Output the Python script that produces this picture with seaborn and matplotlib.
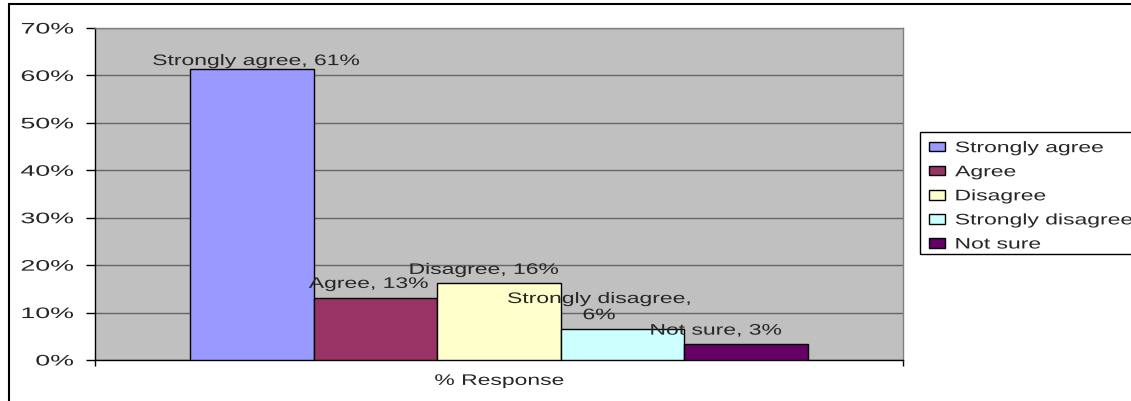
import numpy as np
import pandas as pd
import matplotlib
matplotlib.use("Agg")
import matplotlib.pyplot as plt
from matplotlib.patches import Rectangle
from matplotlib.patheffects import AbstractPathEffect
from matplotlib.transforms import Affine2D
from matplotlib.ticker import PercentFormatter, FixedLocator
import seaborn as sns

# data
answers = ["Strongly agree", "Agree", "Disagree", "Strongly disagree", "Not sure"]
shares = [0.614, 0.131, 0.162, 0.065, 0.034]
group = ["% Response"] * len(answers)
colors = ["#9999FF", "#993366", "#FFFFCC", "#CCFFFF", "#660066"]

df = pd.DataFrame({"group": group, "answer": answers, "share": shares})


# the original export has its text stretched sideways, so widen the glyphs
class Widen(AbstractPathEffect):
    def __init__(self, sx=1.5, anchor="center"):
        super().__init__()
        self.sx = sx
        self.anchor = anchor

    def draw_path(self, renderer, gc, tpath, affine, rgbFace=None):
        ext = tpath.get_extents()
        if self.anchor == "left":
            x0 = ext.x0
        elif self.anchor == "right":
            x0 = ext.x1
        else:
            x0 = (ext.x0 + ext.x1) / 2
        stretch = Affine2D().translate(-x0, 0).scale(self.sx, 1).translate(x0, 0)
        renderer.draw_path(gc, tpath, stretch + affine, rgbFace)


sns.set_theme(style="white")
plt.rcParams["font.family"] = ["Liberation Sans", "DejaVu Sans"]
plt.rcParams["font.size"] = 11

fig = plt.figure(figsize=(11.31, 4.02), dpi=100)
ax = fig.add_axes([95 / 1131, 1 - 361 / 402, 808 / 1131, 332 / 402])
ax.set_facecolor("#C0C0C0")

sns.barplot(data=df, x="group", y="share", hue="answer", hue_order=answers,
            palette=colors, saturation=1, width=0.765, edgecolor="black",
            linewidth=1, ax=ax, zorder=3)

ax.set_ylim(0, 0.70)
ax.set_xlim(-0.5, 0.5)
ax.yaxis.set_major_locator(FixedLocator(np.arange(0, 0.71, 0.1)))
ax.yaxis.set_major_formatter(PercentFormatter(1.0, decimals=0))
ax.grid(axis="y", color="#666666", linewidth=1, zorder=0)
ax.set_axisbelow(True)
ax.set_xlabel("")
ax.set_ylabel("")

ax.tick_params(axis="y", left=True, length=6.5, width=1, color="black",
               labelsize=11, pad=9)
ax.tick_params(axis="x", bottom=False, length=0, labelsize=11, pad=10)
ax.set_xticks([-0.5, 0.5], minor=True)
ax.tick_params(axis="x", which="minor", bottom=True, length=4.5, width=1,
               color="black")

for side in ["left", "bottom"]:
    ax.spines[side].set_color("black")
    ax.spines[side].set_linewidth(1)
for side in ["top", "right"]:
    ax.spines[side].set_color("#808080")
    ax.spines[side].set_linewidth(1)

# data labels over the bars
nudge_x = [3, -5, -11, -17, -22]
nudge_y = [0.5, 5, 4.5, 5, 4.5]
for bar, name, val, dx, dy in zip(ax.patches, answers, shares, nudge_x, nudge_y):
    txt = f"{name}, {round(val * 100)}%"
    if len(txt) > 20:
        txt = txt.replace(", ", ",\n")
    ax.annotate(txt, (bar.get_x() + bar.get_width() / 2, bar.get_height()),
                xytext=(dx, dy), textcoords="offset points",
                ha="center", va="bottom", fontsize=11, zorder=5,
                path_effects=[Widen(1.5, "center")])

leg = ax.legend(loc="upper left", bbox_to_anchor=(920 / 1131, 1 - 133 / 402),
                bbox_transform=fig.transFigure, frameon=False,
                fontsize=11, handlelength=1.05, handleheight=0.55,
                handletextpad=0.65, labelspacing=0.66, borderpad=0.6,
                borderaxespad=0)
for h in leg.legend_handles:
    h.set_edgecolor("black")
    h.set_linewidth(1)
for t in leg.get_texts():
    t.set_path_effects([Widen(1.5, "left")])

fig.add_artist(Rectangle((9 / 1131, -0.1), 1.2, 1.1 - 5 / 402,
                         transform=fig.transFigure, fill=False,
                         edgecolor="black", linewidth=1.5))

fig.canvas.draw()
for t in ax.get_yticklabels():
    t.set_path_effects([Widen(1.75, "right")])
for t in ax.get_xticklabels():
    t.set_path_effects([Widen(1.5, "center")])

# legend box runs past the right edge, as in the original
inv = fig.transFigure.inverted()
lb = leg.get_window_extent().transformed(inv)
last = leg.legend_handles[-1].get_window_extent().transformed(inv)
box_bottom = (last.y0 + last.y1) / 2 - 11 / 402
fig.add_artist(Rectangle((lb.x0, box_bottom), 1.1 - lb.x0, lb.y1 - box_bottom,
                         transform=fig.transFigure, fill=False,
                         edgecolor="black", linewidth=1))

fig.savefig("out.png", dpi=100, facecolor="white")
